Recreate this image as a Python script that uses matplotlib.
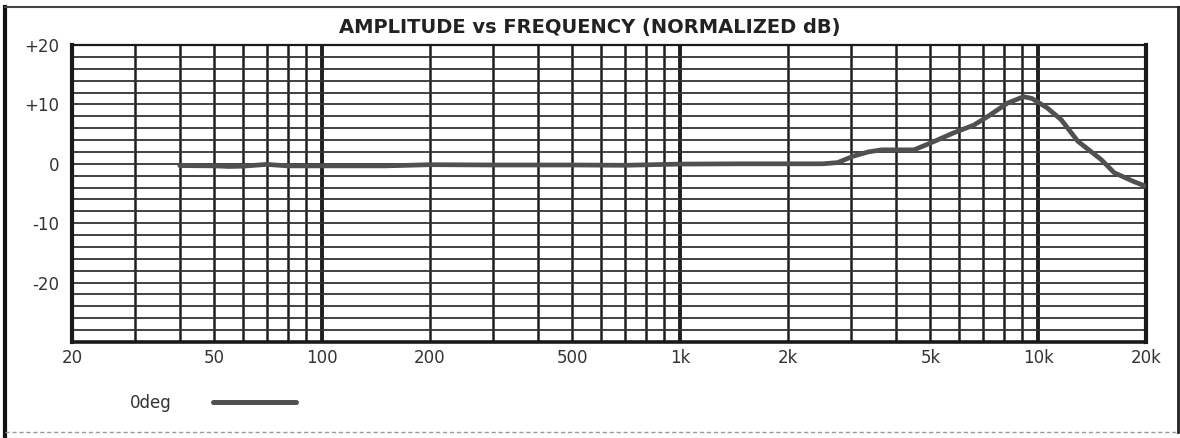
import matplotlib
matplotlib.use("Agg")
import matplotlib.pyplot as plt
from matplotlib.lines import Line2D

# response (Hz, dB)
freq = [40, 50, 55, 60, 70, 80, 100, 150, 200, 300, 500, 700, 1000, 1500,
        2000, 2500, 2750, 3050, 3350, 3650, 4050, 4500, 5000, 5800, 6600,
        7200, 8200, 9100, 9600, 10600, 11600, 12900, 15000, 16300, 18500, 20000]
db = [-0.3, -0.35, -0.45, -0.4, -0.1, -0.35, -0.35, -0.35, -0.15, -0.2,
      -0.2, -0.25, -0.05, 0.0, 0.0, 0.0, 0.2, 1.3, 2.0, 2.35, 2.35, 2.35,
      3.5, 5.2, 6.5, 7.9, 10.2, 11.3, 11.0, 9.4, 7.4, 3.8, 0.7, -1.5, -3.0, -3.8]

xticks = [20, 50, 100, 200, 500, 1000, 2000, 5000, 10000, 20000]
xlabels = ["20", "50", "100", "200", "500", "1k", "2k", "5k", "10k", "20k"]
yticks = [20, 10, 0, -10, -20]
ylabels = ["+20", "+10", "0", "-10", "-20"]
series_name = "0deg"
title = "AMPLITUDE vs FREQUENCY (NORMALIZED dB)"

W, H = 1180, 438
fig = plt.figure(figsize=(W / 100, H / 100), dpi=100)
fig.patch.set_facecolor("white")

ax = fig.add_axes([72 / W, 1 - 342 / H, (1146 - 72) / W, (342 - 45) / H])
ax.set_xscale("log")
ax.set_xlim(20, 20000)
ax.set_ylim(-30, 20)

# grid: every integer multiple per decade, 2 dB steps
grid_col = "#1e1e1e"
for dec in [10, 100, 1000]:
    for m in range(2, 10):
        f = m * dec
        if 20 < f < 20000:
            ax.axvline(f, color=grid_col, lw=1.8, zorder=1)
for f in [100, 1000, 10000]:
    ax.axvline(f, color=grid_col, lw=2.8, zorder=1)
for y in range(-28, 20, 2):
    ax.axhline(y, color="#333333", lw=1.3, zorder=1)

for side, lw in [("left", 3.0), ("bottom", 2.6), ("right", 3.0), ("top", 1.6)]:
    ax.spines[side].set_linewidth(lw)
    ax.spines[side].set_color("#1a1a1a")

ax.plot(freq, db, color="#505050", lw=3.4, solid_capstyle="round",
        solid_joinstyle="round", zorder=3)

ax.set_xticks(xticks)
ax.set_xticklabels(xlabels)
ax.set_yticks(yticks)
ax.set_yticklabels(ylabels)
ax.minorticks_off()
ax.tick_params(length=0, labelsize=12, colors="#333333", pad=5)
ax.tick_params(axis="y", pad=9)

fig.text(0.5, 1 - 28 / H, title, ha="center", va="center",
         fontsize=14, fontweight="bold", color="#222222")

# legend drawn by hand, as in the reference
fig.text(130 / W, 1 - 403 / H, series_name, ha="left", va="center",
         fontsize=12, color="#333333")
fig.add_artist(Line2D([213 / W, 296 / W], [1 - 402 / H, 1 - 402 / H],
                      transform=fig.transFigure, color="#505050", lw=3.6,
                      solid_capstyle="round"))

# outer frame of the page
fr = fig.transFigure
fig.add_artist(Line2D([5 / W, 5 / W], [0, 1 - 7 / H], transform=fr,
                      color="#111111", lw=3))
fig.add_artist(Line2D([5 / W, 1179 / W], [1 - 7 / H, 1 - 7 / H], transform=fr,
                      color="#444444", lw=1.5))
fig.add_artist(Line2D([1178 / W, 1178 / W], [1 - 432 / H, 1 - 7 / H], transform=fr,
                      color="#222222", lw=2))
fig.add_artist(Line2D([5 / W, 1178 / W], [1 - 432 / H, 1 - 432 / H], transform=fr,
                      color="#999999", lw=1, ls=(0, (3, 2))))

fig.savefig("out.png", dpi=100, facecolor="white")
